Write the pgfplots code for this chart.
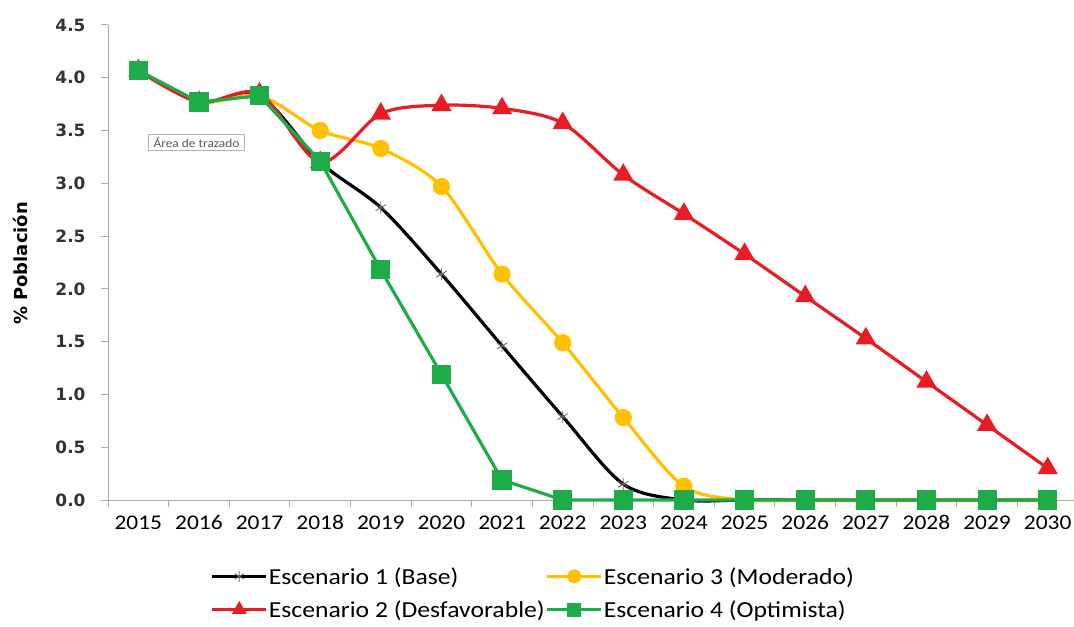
\documentclass[border=0pt]{standalone}
\usepackage{pgfplots}
\pgfplotsset{compat=1.18}
\usepackage{fontspec}
\setmainfont{Carlito}[FakeStretch=1.12]
\newfontfamily\dejavu{DejaVu Sans}
\definecolor{cgreen}{RGB}{30,172,72}
\definecolor{cred}{RGB}{232,28,36}
\definecolor{cyel}{RGB}{255,192,0}
\definecolor{caxis}{RGB}{170,170,170}
\begin{document}
\begin{tikzpicture}
\begin{axis}[
  at={(0,0)}, anchor=south west,
  scale only axis, width=967bp, height=475bp,
  xmin=-0.5, xmax=15.45, ymin=0, ymax=4.5,
  axis x line*=bottom, axis y line*=left,
  axis line style={caxis, line width=1pt},
  every tick/.style={caxis, line width=1pt},
  tick align=outside, major tick length=7bp,
  xtick={-0.5,0.5,...,15.5}, xticklabels={},
  extra x ticks={0,1,...,15},
  extra x tick labels={2015,2016,2017,2018,2019,2020,2021,2022,2023,2024,2025,2026,2027,2028,2029,2030},
  extra x tick style={major tick length=0pt, xticklabel style={font=\fontsize{21}{21}\selectfont, yshift=-12bp}},
  ytick={0,0.5,...,4.5},
  yticklabel style={font=\dejavu\bfseries\fontsize{17}{17}\selectfont, color=black!80, xshift=-12bp, /pgf/number format/.cd, fixed, fixed zerofill, precision=1, assume math mode=true},
  ylabel={\dejavu\bfseries\fontsize{18}{18}\selectfont \% Población},
  ylabel style={at={(axis description cs:-0.091,0.498)}, anchor=center},
  legend columns=2,
  legend style={draw=none, at={(0.106,-0.137)}, anchor=north west, font=\fontsize{23}{23}\selectfont, column sep=0bp, row sep=11bp, inner sep=0pt, nodes={inner xsep=1bp}},
  legend cell align=left,
  every legend image post/.style={mark size=5.5bp},
  legend image code/.code={\draw[mark repeat=2,mark phase=2] plot coordinates {(0bp,0bp) (27bp,0bp) (54bp,0bp)};},
  clip=false,
]
\addplot[black, line width=3.2bp, smooth, tension=0.5, mark=asterisk, mark size=6bp, mark options={draw=gray!80!black, line width=0.8bp, solid}] coordinates {
(0,4.07) (1,3.77) (2,3.83) (3,3.20) (4,2.77) (5,2.14) (6,1.46) (7,0.79) (8,0.15) (9,0.0) (10,0) (11,0) (12,0) (13,0) (14,0) (15,0)};
\addlegendentry{Escenario 1 (Base)}
\addplot[cyel, line width=3.2bp, smooth, tension=0.5, mark=*, mark size=7bp, mark options={fill=cyel, draw=cyel}] coordinates {
(0,4.07) (1,3.77) (2,3.83) (3,3.50) (4,3.33) (5,2.97) (6,2.14) (7,1.49) (8,0.78) (9,0.13) (10,0) (11,0) (12,0) (13,0) (14,0) (15,0)};
\addlegendentry{Escenario 3 (Moderado)}
\addplot[cred, line width=3.2bp, smooth, tension=0.5, mark=triangle*, mark size=8.5bp, mark options={fill=cred, draw=cred}] coordinates {
(0,4.07) (1,3.77) (2,3.85) (3,3.20) (4,3.66) (5,3.74) (6,3.71) (7,3.57) (8,3.08) (9,2.71) (10,2.33) (11,1.93) (12,1.53) (13,1.12) (14,0.71) (15,0.30)};
\addlegendentry{Escenario 2 (Desfavorable)}
\addplot[cgreen, line width=3.2bp, mark=square*, mark size=8bp, mark options={fill=cgreen, draw=cgreen}] coordinates {
(0,4.07) (1,3.77) (2,3.83) (3,3.21) (4,2.18) (5,1.19) (6,0.19) (7,0) (8,0) (9,0) (10,0) (11,0) (12,0) (13,0) (14,0) (15,0)};
\addlegendentry{Escenario 4 (Optimista)}
\node[draw=gray!60, line width=0.8bp, fill=white, font=\fontsize{12}{12}\selectfont, inner xsep=5bp, inner ysep=3bp, text=gray!70!black] at (axis cs:0.96,3.39) {Área de trazado};
\end{axis}
\pgfresetboundingbox
\path (-108bp,-127bp) rectangle (966bp,500bp);
\end{tikzpicture}
\end{document}
